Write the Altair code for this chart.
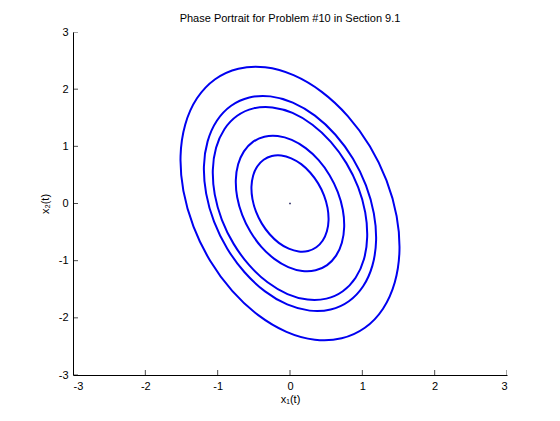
import altair as alt
import pandas as pd

# Trajectories (closed orbits around the centre), 24 points each
c1_x = [1.334, 1.104, 0.799, 0.439, 0.049, -0.344, -0.714, -1.035, -1.286, -1.448, -1.513, -1.474,
        -1.334, -1.104, -0.799, -0.439, -0.049, 0.344, 0.714, 1.035, 1.286, 1.448, 1.513, 1.474]
c1_y = [0.404, 1.001, 1.529, 1.953, 2.245, 2.383, 2.358, 2.174, 1.840, 1.382, 0.830, 0.220,
        -0.404, -1.001, -1.529, -1.953, -2.245, -2.383, -2.358, -2.174, -1.840, -1.382, -0.830, -0.220]
c2_x = [1.050, 0.869, 0.628, 0.345, 0.039, -0.271, -0.562, -0.814, -1.011, -1.139, -1.190, -1.159,
        -1.050, -0.869, -0.628, -0.345, -0.039, 0.271, 0.562, 0.814, 1.011, 1.139, 1.190, 1.159]
c2_y = [0.318, 0.787, 1.203, 1.537, 1.766, 1.874, 1.855, 1.710, 1.448, 1.087, 0.653, 0.173,
        -0.318, -0.787, -1.203, -1.537, -1.766, -1.874, -1.855, -1.710, -1.448, -1.087, -0.653, -0.173]
c3_x = [0.942, 0.779, 0.564, 0.310, 0.035, -0.243, -0.504, -0.730, -0.907, -1.022, -1.067, -1.040,
        -0.942, -0.779, -0.564, -0.310, -0.035, 0.243, 0.504, 0.730, 0.907, 1.022, 1.067, 1.040]
c3_y = [0.285, 0.706, 1.079, 1.378, 1.584, 1.681, 1.664, 1.534, 1.299, 0.975, 0.585, 0.155,
        -0.285, -0.706, -1.079, -1.378, -1.584, -1.681, -1.664, -1.534, -1.299, -0.975, -0.585, -0.155]
c4_x = [0.661, 0.547, 0.396, 0.217, 0.024, -0.170, -0.354, -0.513, -0.637, -0.717, -0.749, -0.730,
        -0.661, -0.547, -0.396, -0.217, -0.024, 0.170, 0.354, 0.513, 0.637, 0.717, 0.749, 0.730]
c4_y = [0.200, 0.496, 0.758, 0.968, 1.112, 1.180, 1.168, 1.077, 0.912, 0.685, 0.411, 0.109,
        -0.200, -0.496, -0.758, -0.968, -1.112, -1.180, -1.168, -1.077, -0.912, -0.685, -0.411, -0.109]
c5_x = [0.470, 0.389, 0.281, 0.155, 0.017, -0.121, -0.251, -0.364, -0.453, -0.510, -0.533, -0.519,
        -0.470, -0.389, -0.281, -0.155, -0.017, 0.121, 0.251, 0.364, 0.453, 0.510, 0.533, 0.519]
c5_y = [0.142, 0.352, 0.538, 0.688, 0.790, 0.839, 0.830, 0.765, 0.648, 0.487, 0.292, 0.077,
        -0.142, -0.352, -0.538, -0.688, -0.790, -0.839, -0.830, -0.765, -0.648, -0.487, -0.292, -0.077]

origin_x = [0.0]
origin_y = [0.0]

x_ticks = [-3, -2, -1, 0, 1, 2, 3]
y_ticks = [-3, -2, -1, 0, 1, 2, 3]

TITLE = "Phase Portrait for Problem #10 in Section 9.1"
FONT = "Liberation Sans"
BLUE = "#0000f0"

rows = []
for cid, (xs, ys) in enumerate([(c1_x, c1_y), (c2_x, c2_y), (c3_x, c3_y), (c4_x, c4_y), (c5_x, c5_y)]):
    for i, (xv, yv) in enumerate(zip(xs, ys)):
        rows.append({"curve": f"c{cid}", "order": i, "x1": xv, "x2": yv})
df = pd.DataFrame(rows)

xscale = alt.Scale(domain=[-3, 3], nice=False, zero=False)
yscale = alt.Scale(domain=[-3, 3], nice=False, zero=False)

xaxis = alt.Axis(values=x_ticks, labelExpr="'' + datum.value", title="x\u2081(t)", tickSize=0,
                 labelPadding=5, titlePadding=2, grid=False)
yaxis = alt.Axis(values=y_ticks, labelExpr="'' + datum.value", title="x\u2082(t)", tickSize=0,
                 labelPadding=5, titlePadding=8, grid=False)

curves = alt.Chart(df).mark_line(
    interpolate="cardinal-closed", tension=0, color=BLUE, strokeWidth=2
).encode(
    x=alt.X("x1:Q", scale=xscale, axis=xaxis),
    y=alt.Y("x2:Q", scale=yscale, axis=yaxis),
    detail="curve:N",
    order="order:Q",
)

dot = alt.Chart(pd.DataFrame({"x1": origin_x, "x2": origin_y})).mark_square(
    size=2, color="#000044", opacity=1
).encode(x=alt.X("x1:Q", scale=xscale), y=alt.Y("x2:Q", scale=yscale))

xt = alt.Chart(pd.DataFrame({"t": x_ticks, "b": [-3] * len(x_ticks)})).mark_tick(
    orient="vertical", size=10, thickness=1, color="black", clip=True
).encode(x=alt.X("t:Q", scale=xscale), y=alt.Y("b:Q", scale=yscale))

yt = alt.Chart(pd.DataFrame({"t": y_ticks, "b": [-3] * len(y_ticks)})).mark_tick(
    orient="horizontal", size=10, thickness=1, color="black", clip=True
).encode(y=alt.Y("t:Q", scale=yscale), x=alt.X("b:Q", scale=xscale))

chart = alt.layer(curves, dot, xt, yt).properties(
    width=434,
    height=343,
    autosize=alt.AutoSizeParams(type="none"),
    padding={"left": 65, "top": 24, "right": 45, "bottom": 40},
    title=alt.Title(TITLE, font=FONT, fontSize=11, fontWeight="normal", color="black", offset=2),
).configure_view(stroke=None).configure_axis(
    domainColor="black", domainWidth=1, labelFont=FONT, labelFontSize=11, labelColor="black",
    titleFont=FONT, titleFontSize=11, titleFontWeight="normal", titleColor="black",
)

chart.save("out.html", embed_options={"renderer": "svg", "actions": False})
